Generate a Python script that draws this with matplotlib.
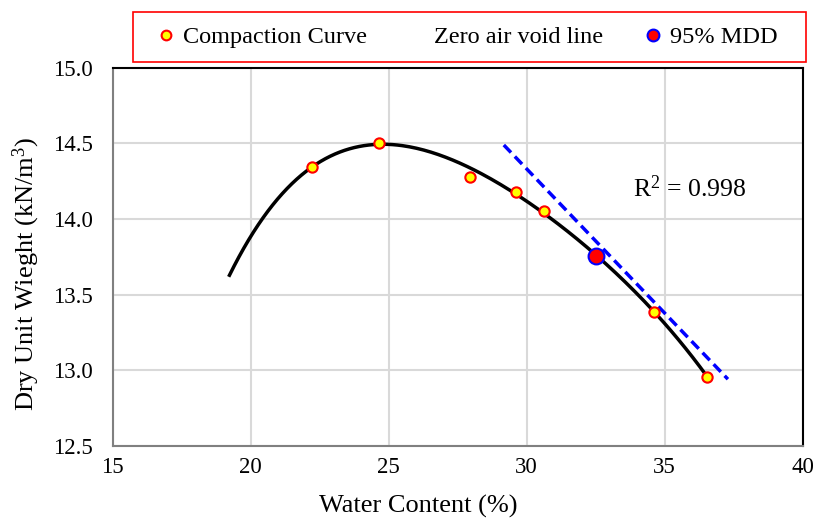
import numpy as np
import matplotlib
matplotlib.use("Agg")
import matplotlib.pyplot as plt
from matplotlib.lines import Line2D
from matplotlib.patches import Rectangle

plt.rcParams['font.family'] = ['Liberation Serif', 'DejaVu Serif']
plt.rcParams['mathtext.fontset'] = 'custom'
plt.rcParams['mathtext.rm'] = 'Liberation Serif'
plt.rcParams['mathtext.it'] = 'Liberation Serif:italic'

# Data
water_content = [22.22, 24.64, 27.94, 29.60, 30.61, 34.61, 36.53]
dry_unit_weight = [14.345, 14.504, 14.275, 14.177, 14.052, 13.384, 12.954]
mdd95_w = [32.50]
mdd95_g = [13.754]
zav_w = [29.17, 37.29]
zav_g = [14.489, 12.94]
# trendline values (polynomial trendline)
trend_w = [19.23, 20.0, 21.31, 24.6, 28.0, 30.0, 32.5, 35.0, 36.53]
trend_g = [13.64, 13.86, 14.213, 14.489, 14.34, 14.114, 13.754, 13.32, 12.954]
x_ticks = [15, 20, 25, 30, 35, 40]
y_ticks = [12.5, 13.0, 13.5, 14.0, 14.5, 15.0]

fig = plt.figure(figsize=(8.18, 5.21), dpi=100)
ax = fig.add_axes([0.1378, 0.1445, 0.8435, 0.7255])

coef = np.polyfit(trend_w, trend_g, 4)
xf = np.linspace(trend_w[0], trend_w[-1], 200)
ax.plot(xf, np.polyval(coef, xf), color='black', lw=2.5, zorder=3)

ax.plot(zav_w, zav_g, color='#0000ff', lw=2.5, ls=(0, (3, 1.6)), zorder=3)

ax.scatter(water_content, dry_unit_weight, s=55, facecolor='#ffff00',
           edgecolor='#ff0000', linewidth=1.5, zorder=4)
ax.scatter(mdd95_w, mdd95_g, s=130, facecolor='#ff0000',
           edgecolor='#0000ff', linewidth=1.5, zorder=5)

ax.text(33.85, 14.2, r'R$^2$ = 0.998', fontsize=18.5, va='center', ha='left')

ax.set_xlim(15, 40)
ax.set_ylim(12.5, 15.0)
ax.set_xticks(x_ticks)
ax.set_yticks(y_ticks)
ax.set_yticklabels([f'{v:.1f}' for v in y_ticks])
ax.tick_params(length=0, labelsize=16.5)
ax.tick_params(axis='x', pad=8)
ax.tick_params(axis='y', pad=14)
ax.grid(True, color='#d9d9d9', lw=1.5)
ax.set_axisbelow(True)
for k, s in ax.spines.items():
    s.set_linewidth(1.5)
    s.set_color('black' if k in ('top', 'right') else '#808080')

ax.set_xlabel('Water Content (%)', fontsize=19)
ax.xaxis.set_label_coords(0.4425, -0.131)
ax.set_ylabel('Dry Unit Wieght (kN/m$^3$)', fontsize=19)
ax.yaxis.set_label_coords(-0.102, 0.454)

# legend frame
fig.patches.append(Rectangle((133 / 818, 1 - 62 / 521), 673 / 818, 50 / 521,
                             transform=fig.transFigure, facecolor='white',
                             edgecolor='#ff0000', linewidth=1.2, zorder=0))
handles = [
    Line2D([], [], ls='none', marker='o', markersize=7, markerfacecolor='#ffff00',
           markeredgecolor='#ff0000', markeredgewidth=1.5),
    Line2D([], [], ls='none', marker=None),
    Line2D([], [], ls='none', marker='o', markersize=8.5, markerfacecolor='#ff0000',
           markeredgecolor='#0000ff', markeredgewidth=1.5),
]
labels = ['Compaction Curve', 'Zero air void line', '95% MDD']
leg = fig.legend(handles, labels, loc='center',
                 bbox_to_anchor=(468 / 818, 1 - 37 / 521),
                 ncol=3, fontsize=17.5, frameon=False,
                 handlelength=0.6, handletextpad=0.4, columnspacing=1.75,
                 borderaxespad=0, borderpad=0)

fig.savefig('out.png', dpi=100)
